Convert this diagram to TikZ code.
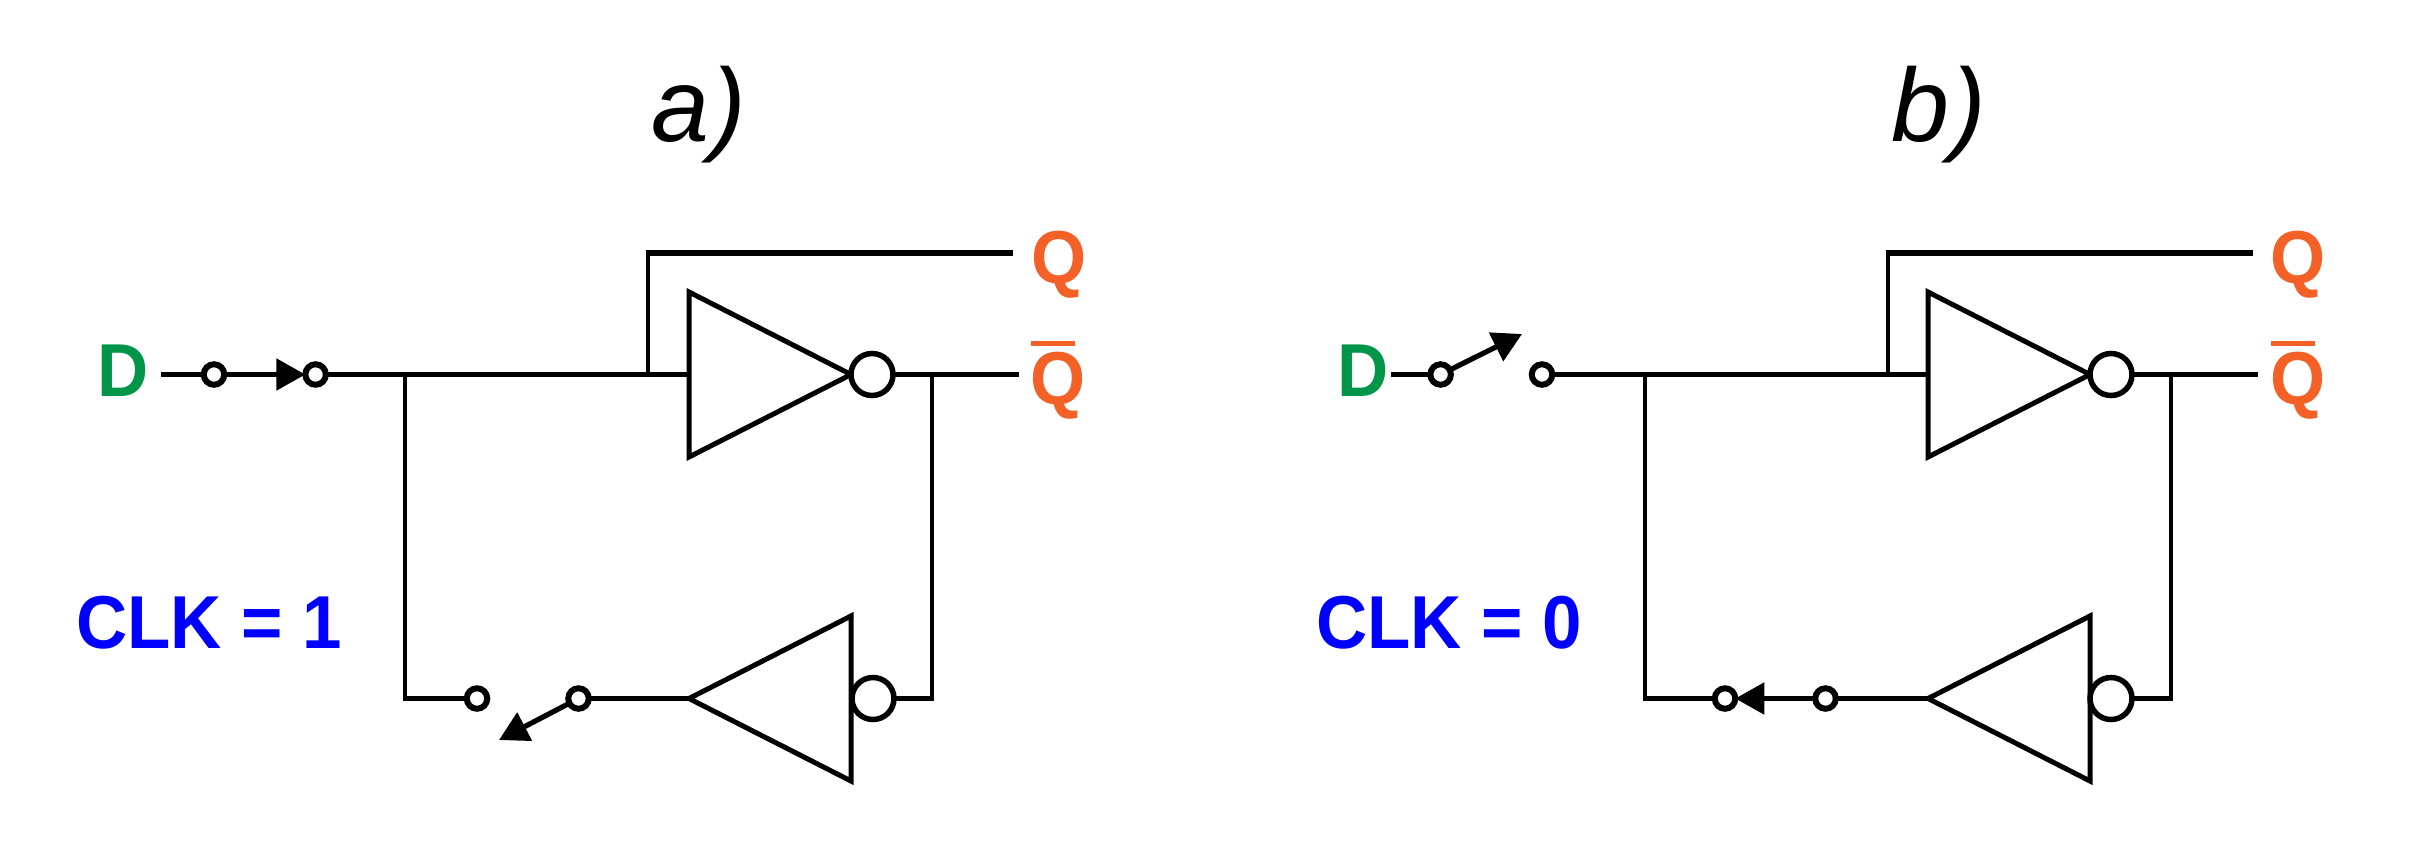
\documentclass[tikz,border=0pt]{standalone}
\usepackage{fontspec}
\setmainfont{Liberation Sans}
\usetikzlibrary{shapes.geometric,arrows.meta}
\definecolor{dgreen}{HTML}{009548}
\definecolor{qorange}{HTML}{F36127}
\definecolor{clkblue}{HTML}{0000FF}
\newcommand{\narrowtext}[1]{\scalebox{0.945}[1]{#1}}
\newcommand{\qbarlabel}{\narrowtext{\makebox[0pt][l]{\hspace{1.5pt}\raisebox{58.5pt}{\rule{46pt}{4.5pt}}}Q}}
\tikzset{
  wire/.style={draw=black,line width=5.2pt},
  thinwire/.style={draw=black,line width=4.8pt,line join=miter},
  contact/.style={circle,draw=black,fill=white,line width=6pt,minimum size=20.5pt,inner sep=0pt,outer sep=0pt},
  bubble/.style={circle,draw=black,fill=white,line width=5.5pt,minimum size=42pt,inner sep=0pt,outer sep=0pt},
  invgate/.style={isosceles triangle,isosceles triangle stretches,draw=black,line width=5pt,minimum width=165pt,minimum height=162pt,inner sep=0pt,outer sep=0pt,line join=miter},
  swarrow/.style={-{Triangle[length=29pt,width=31pt]},line width=5.2pt,draw=black},
  lab/.style={font=\fontsize{75pt}{80pt}\selectfont\bfseries,inner sep=0pt,outer sep=0pt,anchor=base west},
  title/.style={font=\fontsize{104pt}{110pt}\selectfont\itshape,inner sep=0pt,outer sep=0pt,anchor=base west}
}
\begin{document}
\begin{tikzpicture}[x=1pt,y=-1pt]
\useasboundingbox[fill=white] (0,0) rectangle (2419,847);
% ---- panel a
\node[title] (ta) at (651,141) {a\kern3pt)};
\node[lab,text=dgreen] (da) at (97,396) {\narrowtext{D}};
\node[lab,text=qorange] (qa) at (1031,283) {\narrowtext{Q}};
\node[lab,text=qorange] (qba) at (1030,404) {\qbarlabel};
\node[lab,text=clkblue] (ca) at (76,648) {\narrowtext{CLK = 1}};
\coordinate (da0) at (161,374.5);
\node[contact] (a1) at (214,374.5) {};
\node[contact] (a2) at (315.6,374.5) {};
\node[invgate,anchor=apex] (ga) at (851,374.5) {};
\node[bubble] (ba) at (872,374.5) {};
\coordinate (ja1) at (405,374.5);
\coordinate (ja2) at (648,374.5);
\coordinate (ja3) at (648,253);
\coordinate (qae) at (1013,253);
\coordinate (ja4) at (932,374.5);
\coordinate (qbae) at (1019,374.5);
\node[invgate,anchor=apex,shape border rotate=180] (ha) at (689,698.5) {};
\node[bubble] (ca2) at (873,698.5) {};
\node[contact] (a3) at (578.5,698.5) {};
\node[contact] (a4) at (477,698.5) {};
\coordinate (ja5) at (405,698.5);
\coordinate (ja6) at (932,698.5);
\coordinate (tipa) at (499,740);
\draw[wire] (da0) -- (a1);
\draw[swarrow] (a1) -- (a2);
\draw[wire] (a2) -- (ja1) -- (ja2) -- (ga.lower side);
\draw[thinwire] (ja2) -- (ja3);
\draw[wire] (645.6,253) -- (qae);
\draw[wire] (ba) -- (qbae);
\draw[thinwire] (ja1) -- (ja5) -- (a4);
\draw[thinwire] (ja4) -- (ja6) -- (ca2);
\draw[wire] (a3) -- (ha.apex);
\draw[swarrow] (a3) -- (tipa);
% ---- panel b
\node[title] (tb) at (1891,141) {b\kern3pt)};
\node[lab,text=dgreen] (db) at (1337,396) {\narrowtext{D}};
\node[lab,text=qorange] (qb) at (2270,283) {\narrowtext{Q}};
\node[lab,text=qorange] (qbb) at (2270,404) {\qbarlabel};
\node[lab,text=clkblue] (cb) at (1316,648) {\narrowtext{CLK = 0}};
\coordinate (db0) at (1391,374.5);
\node[contact] (b1) at (1440.6,374.5) {};
\node[contact] (b2) at (1542,374.5) {};
\node[invgate,anchor=apex] (gb) at (2090,374.5) {};
\node[bubble] (bb) at (2111,374.5) {};
\coordinate (jb1) at (1645,374.5);
\coordinate (jb2) at (1888,374.5);
\coordinate (jb3) at (1888,253);
\coordinate (qbe) at (2253,253);
\coordinate (jb4) at (2171,374.5);
\coordinate (qbbe) at (2258,374.5);
\node[invgate,anchor=apex,shape border rotate=180] (hb) at (1928,698.5) {};
\node[bubble] (cb2) at (2111,698.5) {};
\node[contact] (b3) at (1825.5,698.5) {};
\node[contact] (b4) at (1725,698.5) {};
\coordinate (jb5) at (1645,698.5);
\coordinate (jb6) at (2171,698.5);
\coordinate (tipb) at (1522,334);
\draw[wire] (db0) -- (b1);
\draw[swarrow] (b1) -- (tipb);
\draw[wire] (b2) -- (jb1) -- (jb2) -- (gb.lower side);
\draw[thinwire] (jb2) -- (jb3);
\draw[wire] (1885.6,253) -- (qbe);
\draw[wire] (bb) -- (qbbe);
\draw[thinwire] (jb1) -- (jb5) -- (b4);
\draw[thinwire] (jb4) -- (jb6) -- (cb2);
\draw[wire] (b3) -- (hb.apex);
\draw[swarrow] (b3) -- (b4);
\end{tikzpicture}
\end{document}
